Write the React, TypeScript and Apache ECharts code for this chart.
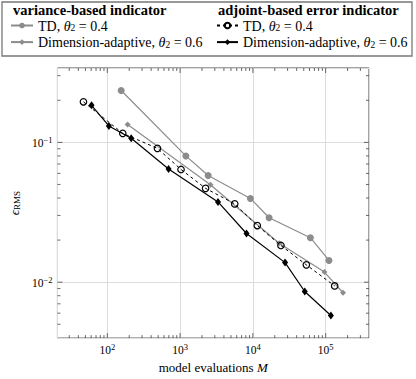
import React, { useEffect, useRef } from "react";
import * as echarts from "echarts";

// ---- data ----
const varTD_M = [155, 1200, 2430, 9250, 16700, 61700, 111000];
const varTD_E = [0.235, 0.08, 0.058, 0.0397, 0.0289, 0.0208, 0.0143];

const varDA_M = [190, 2610, 23000, 96200, 173000];
const varDA_E = [0.134, 0.0498, 0.019, 0.0118, 0.0084];

const adjTD_M = [47, 163, 488, 1030, 2240, 5630, 11500, 24300, 54300, 133000];
const adjTD_E = [0.195, 0.116, 0.0906, 0.064, 0.0469, 0.0363, 0.0254, 0.0183, 0.0133, 0.0094];

const adjDA_M = [60.8, 105, 213, 695, 3320, 8170, 27700, 51600, 118000];
const adjDA_E = [0.184, 0.131, 0.107, 0.0644, 0.0375, 0.0223, 0.0138, 0.00858, 0.00577];

// axis extents and ticks
const X_MIN = 20.65;
const X_MAX = 394000;
const Y_MIN = 0.00398;
const Y_MAX = 0.3404;
const xMajorTicks = [100, 1000, 10000, 100000];
const xMinorTicks = [
  30, 40, 50, 60, 70, 80, 90,
  200, 300, 400, 500, 600, 700, 800, 900,
  2000, 3000, 4000, 5000, 6000, 7000, 8000, 9000,
  20000, 30000, 40000, 50000, 60000, 70000, 80000, 90000,
  200000, 300000,
];
const yMajorTicks = [0.01, 0.1];
const yMinorTicks = [0.005, 0.006, 0.007, 0.008, 0.009, 0.02, 0.03, 0.04, 0.05, 0.06, 0.07, 0.08, 0.09, 0.2, 0.3];

const legendLabels: Record<string, string> = {
  "var-TD": "{n|TD, }{i|θ}{s|2}{n| = 0.4}",
  "var-DA": "{n|Dimension-adaptive, }{i|θ}{s|2}{n| = 0.6}",
  "adj-TD": "{n|TD, }{i|θ}{s|2}{n| = 0.4}",
  "adj-DA": "{n|Dimension-adaptive, }{i|θ}{s|2}{n| = 0.6}",
};

const SERIF = "'Liberation Serif', serif";
const GRAY = "#8c8c8c";

const zip = (xs: number[], ys: number[]) => xs.map((x, i) => [x, ys[i]]);

const legendRich = {
  n: { fontFamily: SERIF, fontSize: 14, color: "#000", lineHeight: 15, verticalAlign: "bottom" },
  i: { fontFamily: SERIF, fontSize: 14, fontStyle: "italic", color: "#000", lineHeight: 15, verticalAlign: "bottom" },
  s: { fontFamily: SERIF, fontSize: 9.5, color: "#000", verticalAlign: "bottom" },
};

const expLabel = (v: number) => {
  const l = Math.log10(v);
  const r = Math.round(l);
  if (Math.abs(l - r) > 1e-6) return "";
  const e = r < 0 ? "−" + Math.abs(r) : String(r);
  return "{b|10}{s|" + e + "}";
};

const tickRich = {
  b: { fontFamily: SERIF, fontSize: 11.5, color: "#000", verticalAlign: "bottom" },
  s: { fontFamily: SERIF, fontSize: 8.5, color: "#000", verticalAlign: "bottom", padding: [0, 0, 5, 0] },
};

export default function App() {
  const ref = useRef<HTMLDivElement>(null);
  useEffect(() => {
    if (!ref.current) return;
    const chart = echarts.init(ref.current, undefined, { renderer: "svg" });

    const tickData: number[][] = [];
    xMajorTicks.forEach((v) => tickData.push([v, Y_MIN, 0, 5]));
    xMinorTicks.forEach((v) => tickData.push([v, Y_MIN, 0, 3]));
    yMajorTicks.forEach((v) => tickData.push([X_MIN, v, 1, 5]));
    yMinorTicks.forEach((v) => tickData.push([X_MIN, v, 1, 3]));

    const legendCommon = {
      orient: "vertical",
      padding: 0,
      itemHeight: 7,
      itemGap: 2.6,
      selectedMode: false,
      formatter: (name: string) => legendLabels[name],
      textStyle: { fontFamily: SERIF, fontSize: 14, color: "#000", rich: legendRich },
    };

    chart.setOption({
      animation: false,
      backgroundColor: "#fff",
      grid: {
        left: 53,
        right: 47,
        top: 68,
        bottom: 38,
        show: true,
        borderColor: "#444",
        borderWidth: 1,
        backgroundColor: "transparent",
      },
      legend: [
        { ...legendCommon, data: ["var-TD", "var-DA"], left: 10, top: 19, itemWidth: 22 },
        { ...legendCommon, data: ["adj-TD", "adj-DA"], left: 216, top: 19, itemWidth: 21 },
      ],
      graphic: [
        {
          type: "rect",
          shape: { x: 2, y: 2, width: 410, height: 54 },
          style: { fill: "none", stroke: "#777", lineWidth: 1.3 },
          z: 10,
        },
        {
          type: "text",
          x: 13,
          y: 10,
          style: {
            text: "variance-based indicator",
            font: "bold 14.5px 'Liberation Serif', serif",
            fill: "#000",
            verticalAlign: "middle",
          },
        },
        {
          type: "text",
          x: 218,
          y: 10,
          style: {
            text: "adjoint-based error indicator",
            font: "bold 14.5px 'Liberation Serif', serif",
            fill: "#000",
            verticalAlign: "middle",
          },
        },
      ],
      xAxis: {
        type: "log",
        logBase: 10,
        min: X_MIN,
        max: X_MAX,
        name: "{n|model evaluations }{i|M}",
        nameLocation: "middle",
        nameGap: 22,
        nameTextStyle: {
          rich: {
            n: { fontFamily: SERIF, fontSize: 13, color: "#000" },
            i: { fontFamily: SERIF, fontSize: 13, fontStyle: "italic", color: "#000" },
          },
        },
        axisLine: { show: false },
        axisTick: { show: false },
        minorTick: { show: false },
        splitLine: { show: true, lineStyle: { color: "#dcdcdc", width: 1 } },
        axisLabel: { formatter: expLabel, margin: 4, rich: tickRich },
      },
      yAxis: {
        type: "log",
        logBase: 10,
        min: Y_MIN,
        max: Y_MAX,
        name: "{i|ϵ}{s|RMS}",
        nameLocation: "middle",
        nameRotate: 90,
        nameGap: 35,
        nameTextStyle: {
          rich: {
            i: { fontFamily: SERIF, fontSize: 13, fontStyle: "italic", color: "#000", verticalAlign: "bottom", lineHeight: 14 },
            s: { fontFamily: SERIF, fontSize: 9, color: "#000", verticalAlign: "bottom" },
          },
        },
        axisLine: { show: false },
        axisTick: { show: false },
        minorTick: { show: false },
        splitLine: { show: true, lineStyle: { color: "#dcdcdc", width: 1 } },
        axisLabel: { formatter: expLabel, margin: 5, rich: tickRich },
      },
      series: [
        {
          type: "custom",
          name: "ticks",
          silent: true,
          clip: false,
          data: tickData,
          z: 5,
          renderItem: (_params: any, api: any) => {
            const v0 = api.value(0);
            const v1 = api.value(1);
            const kind = api.value(2);
            const len = api.value(3);
            const st = { stroke: "#444", lineWidth: 0.8 };
            if (kind === 0) {
              const b = api.coord([v0, Y_MIN]);
              const t = api.coord([v0, Y_MAX]);
              return {
                type: "group",
                children: [
                  { type: "line", shape: { x1: b[0], y1: b[1], x2: b[0], y2: b[1] - len }, style: st },
                  { type: "line", shape: { x1: t[0], y1: t[1], x2: t[0], y2: t[1] + len }, style: st },
                ],
              };
            }
            const l = api.coord([X_MIN, v1]);
            const r = api.coord([X_MAX, v1]);
            return {
              type: "group",
              children: [
                { type: "line", shape: { x1: l[0], y1: l[1], x2: l[0] + len, y2: l[1] }, style: st },
                { type: "line", shape: { x1: r[0], y1: r[1], x2: r[0] - len, y2: r[1] }, style: st },
              ],
            };
          },
        },
        {
          name: "var-TD",
          type: "line",
          data: zip(varTD_M, varTD_E),
          symbol: "circle",
          symbolSize: 7,
          itemStyle: { color: GRAY },
          lineStyle: { color: GRAY, width: 1.2 },
          z: 6,
        },
        {
          name: "var-DA",
          type: "line",
          data: zip(varDA_M, varDA_E),
          symbol: "diamond",
          symbolSize: 6,
          itemStyle: { color: GRAY },
          lineStyle: { color: GRAY, width: 1.2 },
          z: 6,
        },
        {
          name: "adj-TD",
          type: "line",
          data: zip(adjTD_M, adjTD_E),
          symbol: "circle",
          symbolSize: 6.5,
          itemStyle: { color: "rgba(0,0,0,0)", borderColor: "#000", borderWidth: 1.2 },
          lineStyle: { color: "#000", width: 1, type: [3, 3] },
          z: 7,
        },
        {
          name: "adj-DA",
          type: "line",
          data: zip(adjDA_M, adjDA_E),
          symbol: "diamond",
          symbolSize: [6, 8],
          itemStyle: { color: "#000" },
          lineStyle: { color: "#000", width: 1.2 },
          z: 7,
        },
      ],
    });
    return () => chart.dispose();
  }, []);
  return (
    <div
      ref={ref}
      style={{ position: "fixed", left: 0, top: 0, width: 416, height: 379, background: "#fff" }}
    />
  );
}
